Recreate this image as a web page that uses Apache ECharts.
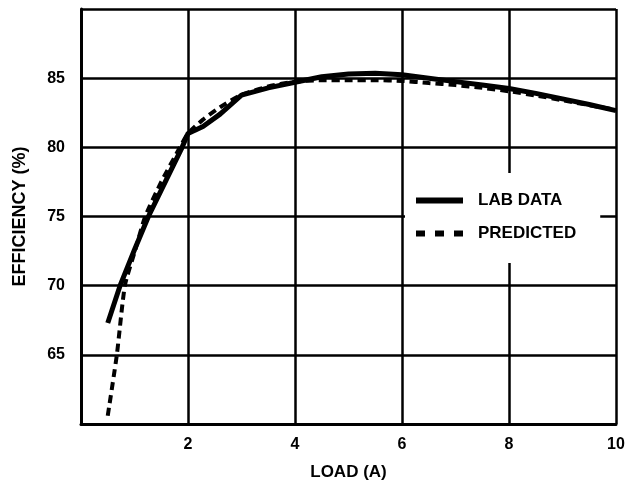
<!DOCTYPE html>
<html>
<head>
<meta charset="utf-8">
<script src="https://cdn.jsdelivr.net/npm/echarts@6/dist/echarts.min.js"></script>
<style>
html,body{margin:0;padding:0;background:#fff;}
#chart{width:626px;height:481px;}
</style>
</head>
<body>
<div id="chart"></div>
<script>
const labData = [
  [0.5, 67.3], [0.73, 70.0], [1.0, 72.6], [1.26, 75.0], [1.5, 76.9], [1.89, 80.0], [2.0, 81.0],
  [2.28, 81.5], [2.6, 82.4], [3.0, 83.77], [3.5, 84.3], [4.0, 84.7], [4.5, 85.1], [5.0, 85.3],
  [5.5, 85.35], [6.0, 85.25], [6.5, 85.0], [7.0, 84.75], [7.5, 84.5], [8.0, 84.25],
  [8.5, 83.9], [9.0, 83.5], [9.5, 83.1], [10.0, 82.65]
];
const predictedData = [
  [0.5, 60.6], [0.67, 65.0], [0.82, 70.0], [1.0, 72.4], [1.2, 75.0], [1.5, 77.5], [1.85, 80.0],
  [2.0, 81.0], [2.28, 82.0], [2.6, 82.9], [3.0, 83.8], [3.5, 84.4], [4.0, 84.75], [4.5, 84.85],
  [5.0, 84.85], [5.5, 84.85], [6.0, 84.8], [6.5, 84.65], [7.0, 84.5], [7.5, 84.3], [8.0, 84.05],
  [8.5, 83.75], [9.0, 83.4], [9.5, 83.05], [10.0, 82.7]
];
const seriesNames = ['LAB DATA', 'PREDICTED'];
const xTicks = [0, 2, 4, 6, 8, 10];
const yTicks = [60, 65, 70, 75, 80, 85, 90];

const FONT = '"Liberation Sans", Arial, Helvetica, sans-serif';
const chart = echarts.init(document.getElementById('chart'));
chart.setOption({
  animation: false,
  backgroundColor: '#fff',
  grid: { left: 81, right: 10, top: 9, bottom: 57, show: false, containLabel: false, outerBoundsMode: 'none' },
  xAxis: {
    type: 'value', min: xTicks[0], max: xTicks[xTicks.length - 1], interval: 2,
    name: 'LOAD (A)', nameLocation: 'middle', nameGap: 40,
    nameTextStyle: { color: '#000', fontWeight: 'bold', fontSize: 17, fontFamily: FONT },
    axisLine: { show: true, lineStyle: { color: '#000', width: 3 } },
    axisTick: { show: false },
    axisLabel: {
      color: '#000', fontWeight: 'bold', fontSize: 16, fontFamily: FONT, margin: 13,
      formatter: v => (v === 0 ? '' : String(v))
    },
    splitLine: { show: true, lineStyle: { color: '#000', width: 2.5 } }
  },
  yAxis: {
    type: 'value', min: yTicks[0], max: yTicks[yTicks.length - 1], interval: 5,
    name: 'EFFICIENCY (%)', nameLocation: 'middle', nameGap: 52,
    nameTextStyle: { color: '#000', fontWeight: 'bold', fontSize: 18, fontFamily: FONT },
    axisLine: { show: true, lineStyle: { color: '#000', width: 3 } },
    axisTick: { show: false },
    axisLabel: {
      color: '#000', fontWeight: 'bold', fontSize: 16, fontFamily: FONT, margin: 16,
      formatter: v => (v === 60 || v === 90 ? '' : String(v))
    },
    splitLine: { show: true, lineStyle: { color: '#000', width: 2.5 } }
  },
  legend: {
    orient: 'vertical', left: 405, top: 173,
    backgroundColor: '#fff',
    padding: [19, 24, 21, 11],
    itemWidth: 47, itemHeight: 6, itemGap: 16,
    textStyle: { color: '#000', fontWeight: 'bold', fontSize: 17, fontFamily: FONT, padding: [0, 0, 0, 10] },
    data: [
      { name: seriesNames[0], icon: 'rect', itemStyle: { color: '#000' } },
      { name: seriesNames[1], icon: 'path://M0,0h9v6h-9z M19,0h9v6h-9z M38,0h9v6h-9z', itemStyle: { color: '#000' } }
    ]
  },
  series: [
    {
      name: seriesNames[0], type: 'line', data: labData, symbol: 'none',
      lineStyle: { color: '#000', width: 5 }, itemStyle: { color: '#000' }, z: 3
    },
    {
      name: seriesNames[1], type: 'line', data: predictedData, symbol: 'none', smooth: 0.2,
      lineStyle: { color: '#000', width: 4, type: [8, 5] }, itemStyle: { color: '#000' }, z: 2
    }
  ]
});
</script>
</body>
</html>
